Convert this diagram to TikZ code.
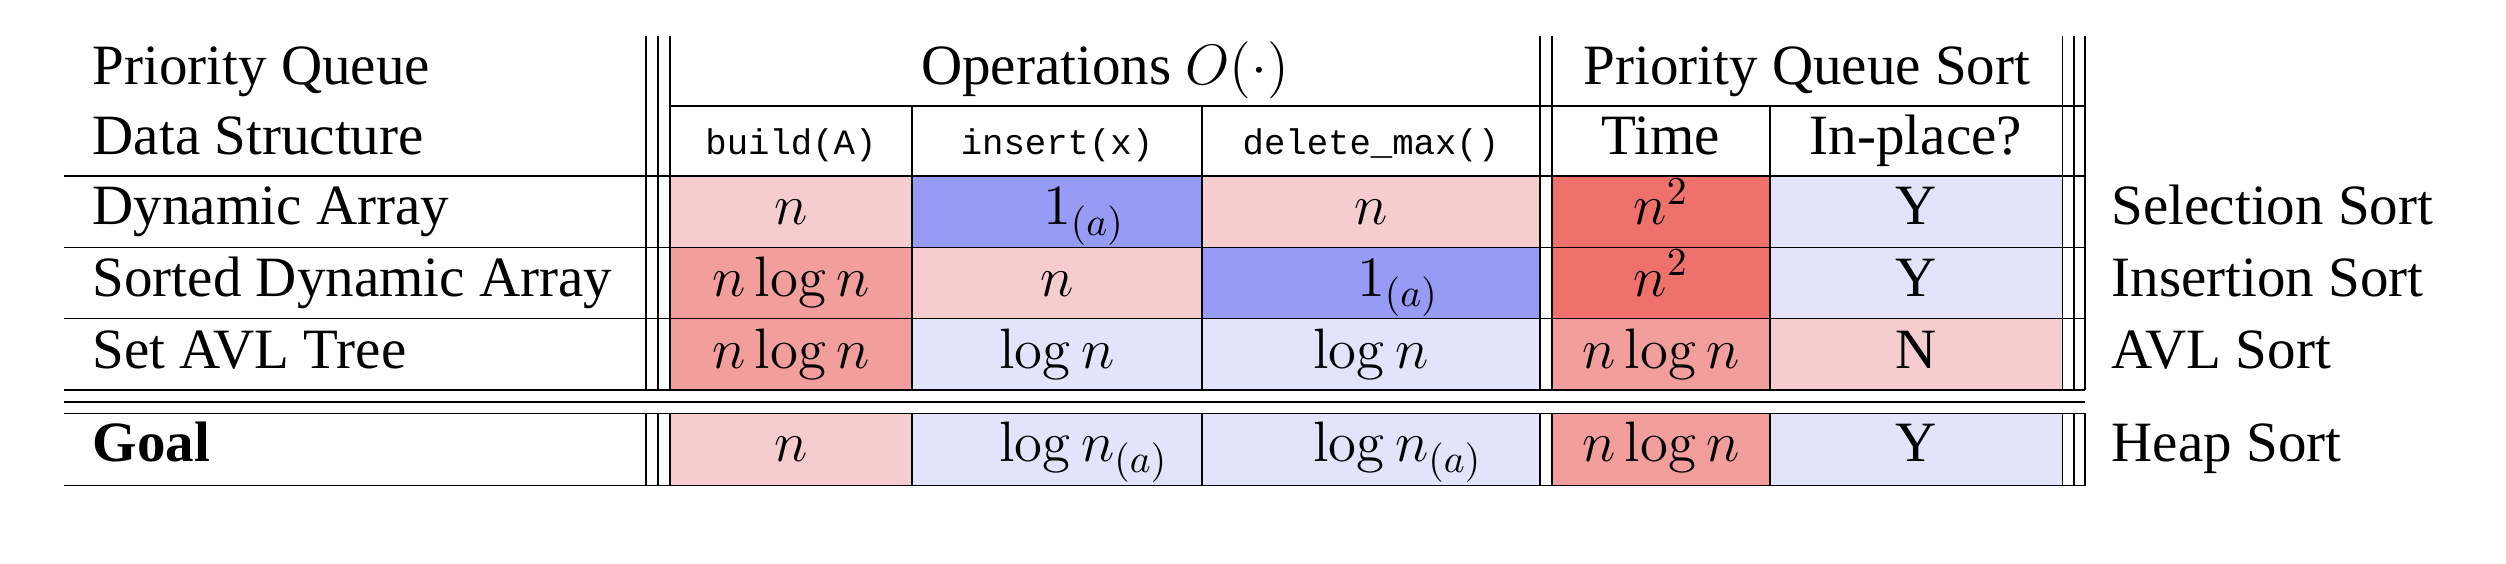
\documentclass[tikz,border=0pt]{standalone}
\usepackage[no-math]{fontspec}
\setmainfont{Liberation Serif}
\setmonofont{Liberation Mono}
\definecolor{pkA}{RGB}{246,205,206}
\definecolor{pkB}{RGB}{241,158,156}
\definecolor{pkC}{RGB}{238,113,108}
\definecolor{blC}{RGB}{152,155,245}
\definecolor{blA}{RGB}{227,228,251}
\begin{document}
\begin{tikzpicture}[x=0.2526pt,y=-0.2526pt,
  rule/.style={line width=0.33pt,black},
  txt/.style={anchor=base,inner sep=0pt,font=\fontsize{14.4}{17}\selectfont},
  lbl/.style={txt,anchor=base west},
  code/.style={anchor=base,inner sep=0pt,font=\fontsize{9}{11}\selectfont\ttfamily},
]
\useasboundingbox (0,0) rectangle (2506,564);
% ---- cell fills ----
% row 1
\fill[pkA] (670,176) rectangle (912,247.3);
\fill[blC] (912,176) rectangle (1202,247.3);
\fill[pkA] (1202,176) rectangle (1540,247.3);
\fill[pkC] (1552,176) rectangle (1770,247.3);
\fill[blA] (1770,176) rectangle (2062.5,247.3);
% row 2
\fill[pkB] (670,247.3) rectangle (912,318.6);
\fill[pkA] (912,247.3) rectangle (1202,318.6);
\fill[blC] (1202,247.3) rectangle (1540,318.6);
\fill[pkC] (1552,247.3) rectangle (1770,318.6);
\fill[blA] (1770,247.3) rectangle (2062.5,318.6);
% row 3
\fill[pkB] (670,318.6) rectangle (912,390);
\fill[blA] (912,318.6) rectangle (1202,390);
\fill[blA] (1202,318.6) rectangle (1540,390);
\fill[pkB] (1552,318.6) rectangle (1770,390);
\fill[pkA] (1770,318.6) rectangle (2062.5,390);
% goal row
\fill[pkA] (670,413.5) rectangle (912,485.6);
\fill[blA] (912,413.5) rectangle (1202,485.6);
\fill[blA] (1202,413.5) rectangle (1540,485.6);
\fill[pkB] (1552,413.5) rectangle (1770,485.6);
\fill[blA] (1770,413.5) rectangle (2062.5,485.6);
% ---- rules ----
\draw[rule] (670,106) -- (2085,106);
\foreach \yy in {176,247.3,318.6,390,402,413.5,485.6}
  \draw[rule] (64,\yy) -- (2085,\yy);
\foreach \xx in {646,658,670,1540,1552,2062.5,2074,2085}{
  \draw[rule] (\xx,36) -- (\xx,390);
  \draw[rule] (\xx,413.5) -- (\xx,485.6);
}
\foreach \xx in {912,1202,1770}{
  \draw[rule] (\xx,106) -- (\xx,390);
  \draw[rule] (\xx,413.5) -- (\xx,485.6);
}
% ---- header ----
\node[lbl] (hpq) at (92,84.5) {Priority Queue};
\node[lbl] (hds) at (92,154.7) {Data Structure};
\node[txt] (hops) at (1105,84.5) {Operations $O(\cdot)$};
\node[txt] (hpqs) at (1807,84.5) {Priority Queue Sort};
\node[code] (hbuild) at (791,154.7) {build(A)};
\node[code] (hins) at (1057,154.7) {insert(x)};
\node[code] (hdel) at (1371,154.7) {delete\_max()};
\node[txt] (htime) at (1661,154.7) {Time};
\node[txt] (hinp) at (1916,154.7) {In-place?};
% ---- row 1 ----
\node[lbl] (aL) at (92,225) {Dynamic Array};
\node[txt] (aB) at (791,225) {$n$};
\node[txt] (aI) at (1057,225) {$1\rlap{$_{(a)}$}$};
\node[txt] (aD) at (1371,225) {$n$};
\node[txt] (aT) at (1661,225) {$n^2$};
\node[txt] (aP) at (1916,225) {Y};
\node[lbl] (aR) at (2111,225) {Selection Sort};
% ---- row 2 ----
\node[lbl] (bL) at (92,296.5) {Sorted Dynamic Array};
\node[txt] (bB) at (791,296.5) {$n\log n$};
\node[txt] (bI) at (1057,296.5) {$n$};
\node[txt] (bD) at (1371,296.5) {$1\rlap{$_{(a)}$}$};
\node[txt] (bT) at (1661,296.5) {$n^2$};
\node[txt] (bP) at (1916,296.5) {Y};
\node[lbl] (bR) at (2111,296.5) {Insertion Sort};
% ---- row 3 ----
\node[lbl] (cL) at (92,368.5) {Set AVL Tree};
\node[txt] (cB) at (791,368.5) {$n\log n$};
\node[txt] (cI) at (1057,368.5) {$\log n$};
\node[txt] (cD) at (1371,368.5) {$\log n$};
\node[txt] (cT) at (1661,368.5) {$n\log n$};
\node[txt] (cP) at (1916,368.5) {N};
\node[lbl] (cR) at (2111,368.5) {AVL Sort};
% ---- goal row ----
\node[lbl] (gL) at (92,462) {\textbf{Goal}};
\node[txt] (gB) at (791,462) {$n$};
\node[txt] (gI) at (1057,462) {$\log n\rlap{$_{(a)}$}$};
\node[txt] (gD) at (1371,462) {$\log n\rlap{$_{(a)}$}$};
\node[txt] (gT) at (1661,462) {$n\log n$};
\node[txt] (gP) at (1916,462) {Y};
\node[lbl] (gR) at (2111,462) {Heap Sort};
\end{tikzpicture}
\end{document}
